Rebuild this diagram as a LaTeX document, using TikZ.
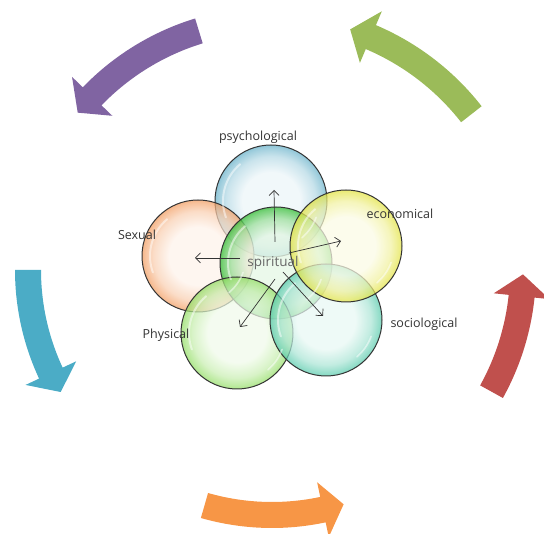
\documentclass[tikz,border=0pt]{standalone}
\usepackage{fontspec}
\setmainfont{Open Sans}
\usetikzlibrary{arrows.meta}

\definecolor{arrgreen}{HTML}{9BBB59}
\definecolor{arrpurple}{HTML}{8064A2}
\definecolor{arrblue}{HTML}{4BACC6}
\definecolor{arrorange}{HTML}{F79646}
\definecolor{arrred}{HTML}{C0504D}
\definecolor{labelgray}{HTML}{333333}
\definecolor{psyrim}{HTML}{63AFC8}
\definecolor{sexrim}{HTML}{F29A5C}
\definecolor{spirim}{HTML}{3DBF3D}
\definecolor{phyrim}{HTML}{8EDC5E}
\definecolor{socrim}{HTML}{4FC8A8}
\definecolor{ecorim}{HTML}{E2E23A}

% bubble fill: tinted core, coloured rim
\colorlet{bubrim}{white}
\colorlet{bubcore}{white}
\pgfdeclareradialshading[bubrim,bubcore]{bubble}{\pgfpoint{0bp}{0bp}}{%
  color(0bp)=(bubcore); color(13bp)=(bubcore); color(20bp)=(bubrim!40!bubcore);
  color(24bp)=(bubrim!85!bubcore); color(25bp)=(bubrim); color(50bp)=(bubrim)}

% thick curved arrow on the outer ring: from angle, to angle, radius, colour
\newcommand{\ringarrow}[4]{%
  \fill[#4] ({#1}:{#3+13}) arc[start angle=#1, end angle={#2-5}, radius={#3+13}]
    -- ({#2-5}:{#3+28}) -- ({#2}:{#3}) -- ({#2-5}:{#3-28}) -- ({#2-5}:{#3-13})
    arc[start angle={#2-5}, end angle=#1, radius={#3-13}] -- cycle;}

\begin{document}
\begin{tikzpicture}[x=1pt, y=1pt,
  bubble/.style={circle, minimum size=112pt, inner sep=0pt,
    draw=black!80, line width=1pt, shading=bubble, fill opacity=0.72,
    /utils/exec={\colorlet{bubrim}{#1}\colorlet{bubcore}{#1!13!white}}},
  gloss/.style={white, opacity=0.5, line width=2pt, line cap=round},
  lbl/.style={text=labelgray, font=\fontsize{12.5}{15}\selectfont},
  ray/.style={draw=black!80, line width=0.7pt,
    -{Straight Barb[length=5pt, width=10pt]}}]
  \useasboundingbox (0,0) rectangle (544,534);

  % outer ring of arrows
  \begin{scope}[shift={(272,264)}]
    \ringarrow{38}{72}{253}{arrgreen}
    \ringarrow{107}{141}{250}{arrpurple}
    \ringarrow{180}{210}{244}{arrblue}
    \ringarrow{254}{287}{245}{arrorange}
    \ringarrow{331}{359}{251}{arrred}
  \end{scope}

  % the six overlapping bubbles
  \node[bubble=psyrim] (psych) at (271,333) {};
  \node[bubble=sexrim] (sexual) at (198,278) {};
  \node[bubble=spirim, fill opacity=0.8] (spirit) at (276,271) {};
  \node[bubble=phyrim] (phys) at (237,201) {};
  \node[bubble=socrim] (socio) at (326,214) {};
  \node[bubble=ecorim] (econ) at (346,288) {};

  % shine on each bubble
  \foreach \b in {psych,sexual,spirit,phys,socio,econ} {
    \draw[gloss] ([shift={(130:48)}]\b.center) arc[start angle=130, end angle=200, radius=48];
    \draw[gloss, line width=1.6pt] ([shift={(-50:48)}]\b.center) arc[start angle=-50, end angle=-20, radius=48];
  }

  % labels
  \node[lbl] (psych-lbl) at (258,397) {psychological};
  \node[lbl] (econ-lbl) at (400,320) {economical};
  \node[lbl] (socio-lbl) at (424,210) {sociological};
  \node[lbl] (phys-lbl) at (166,199) {Physical};
  \node[lbl] (sexual-lbl) at (137,299) {Sexual};
  \node[lbl, text=black!60, font=\fontsize{13.5}{16}\selectfont] (spirit-lbl) at (273,271) {spiritual};

  % rays out of the centre
  \coordinate (from-psych) at (275,292);
  \coordinate (to-psych) at (274,344);
  \coordinate (from-sexual) at (240,276);
  \coordinate (to-sexual) at (195,276);
  \coordinate (from-econ) at (289,281);
  \coordinate (to-econ) at (341,293);
  \coordinate (from-socio) at (283,262);
  \coordinate (to-socio) at (323,218);
  \coordinate (from-phys) at (275,255);
  \coordinate (to-phys) at (240,207);
  \draw[ray] (from-psych) -- (to-psych);
  \draw[ray] (from-sexual) -- (to-sexual);
  \draw[ray] (from-econ) -- (to-econ);
  \draw[ray] (from-socio) -- (to-socio);
  \draw[ray] (from-phys) -- (to-phys);
\end{tikzpicture}
\end{document}
